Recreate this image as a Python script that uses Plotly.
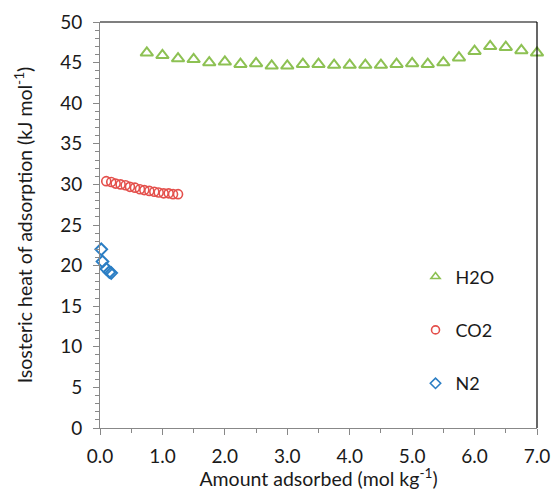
import plotly.graph_objects as go

h2o_x = [0.75, 1.0, 1.25, 1.5, 1.75, 2.0, 2.25, 2.5, 2.75, 3.0, 3.25, 3.5, 3.75,
         4.0, 4.25, 4.5, 4.75, 5.0, 5.25, 5.5, 5.75, 6.0, 6.25, 6.5, 6.75, 7.0]
h2o_y = [46.2, 45.9, 45.5, 45.4, 45.0, 45.1, 44.8, 44.9, 44.6, 44.6, 44.8, 44.8, 44.7,
         44.7, 44.7, 44.7, 44.8, 44.9, 44.8, 45.0, 45.6, 46.4, 47.0, 46.9, 46.5, 46.2]

co2_x = [0.10, 0.18, 0.25, 0.33, 0.41, 0.48, 0.56, 0.64, 0.71, 0.79, 0.87, 0.94,
         1.02, 1.10, 1.17, 1.25]
co2_y = [30.4, 30.3, 30.1, 30.0, 29.9, 29.7, 29.6, 29.4, 29.3, 29.2, 29.1, 29.0,
         28.9, 28.9, 28.8, 28.8]

n2_x = [0.02, 0.04, 0.10, 0.15, 0.18]
n2_y = [22.0, 20.5, 19.6, 19.2, 19.1]

x_ticks = [0, 1, 2, 3, 4, 5, 6, 7]
y_ticks = [0, 5, 10, 15, 20, 25, 30, 35, 40, 45, 50]

FONT = "Lato"
TXT = "#1a1a1a"
GREEN = "#8DC153"
RED = "#E4504C"
BLUE = "#2B7EC4"

fig = go.Figure()
fig.add_trace(go.Scatter(x=h2o_x, y=h2o_y, mode="markers", name="H2O", showlegend=False,
                         cliponaxis=False,
                         marker=dict(symbol="triangle-up-open", size=11, color=GREEN,
                                     line=dict(width=2, color=GREEN))))
fig.add_trace(go.Scatter(x=co2_x, y=co2_y, mode="markers", name="CO2", showlegend=False,
                         cliponaxis=False,
                         marker=dict(symbol="circle-open", size=9, color=RED,
                                     line=dict(width=1.6, color=RED))))
fig.add_trace(go.Scatter(x=n2_x, y=n2_y, mode="markers", name="N2", showlegend=False,
                         cliponaxis=False,
                         marker=dict(symbol="diamond-open", size=9, color=BLUE,
                                     line=dict(width=2, color=BLUE))))

# legend entries (smaller symbols, as in the reference legend)
for name, sym, col, grp in [("H2O", "triangle-up-open", GREEN, "a"),
                            ("CO2", "circle-open", RED, "b"),
                            ("N2", "diamond-open", BLUE, "c")]:
    fig.add_trace(go.Scatter(x=[None], y=[None], mode="markers", name=name,
                             legendgroup=grp, showlegend=True,
                             marker=dict(symbol=sym, size=8, color=col,
                                         line=dict(width=1.6, color=col))))

fig.update_layout(
    width=553, height=490,
    margin=dict(l=100, r=16, t=22, b=62),
    paper_bgcolor="white", plot_bgcolor="white",
    font=dict(family=FONT, size=18, color=TXT),
    showlegend=True,
    legend=dict(x=0.722, y=0.418, xanchor="left", yanchor="top",
                font=dict(family=FONT, size=18, color=TXT),
                tracegroupgap=27, itemwidth=30, bgcolor="rgba(0,0,0,0)"),
    xaxis=dict(range=[0, 7], tickvals=x_ticks, tickformat=".1f", automargin=False,
               showline=True, linecolor="#888888", linewidth=1,
               ticks="outside", ticklen=6, tickcolor="#888888", ticklabelstandoff=5,
               minor=dict(dtick=0.5, ticks="outside", ticklen=4, tickcolor="#888888"),
               showgrid=False, zeroline=False,
               title=dict(text="Amount adsorbed (mol kg<sup>-1</sup>)", standoff=2,
                          font=dict(size=19.5, color=TXT)),
               tickfont=dict(size=19, color=TXT)),
    yaxis=dict(range=[0, 50], tickvals=y_ticks, automargin=False,
               showline=True, linecolor="#888888", linewidth=1,
               ticks="outside", ticklen=6, tickcolor="#888888", ticklabelstandoff=7,
               minor=dict(dtick=1, ticks="outside", ticklen=4, tickcolor="#888888"),
               showgrid=False, zeroline=False,
               title=dict(text="Isosteric heat of adsorption (kJ mol<sup>-1</sup>)",
                          standoff=22, font=dict(size=19.5, color=TXT)),
               tickfont=dict(size=19, color=TXT)),
    shapes=[
        dict(type="line", xref="paper", yref="paper", x0=0, x1=1, y0=1, y1=1,
             line=dict(color="black", width=1.2)),
        dict(type="line", xref="paper", yref="paper", x0=1, x1=1, y0=0, y1=1,
             line=dict(color="black", width=1.2)),
    ],
)

fig.write_html("out.html")
